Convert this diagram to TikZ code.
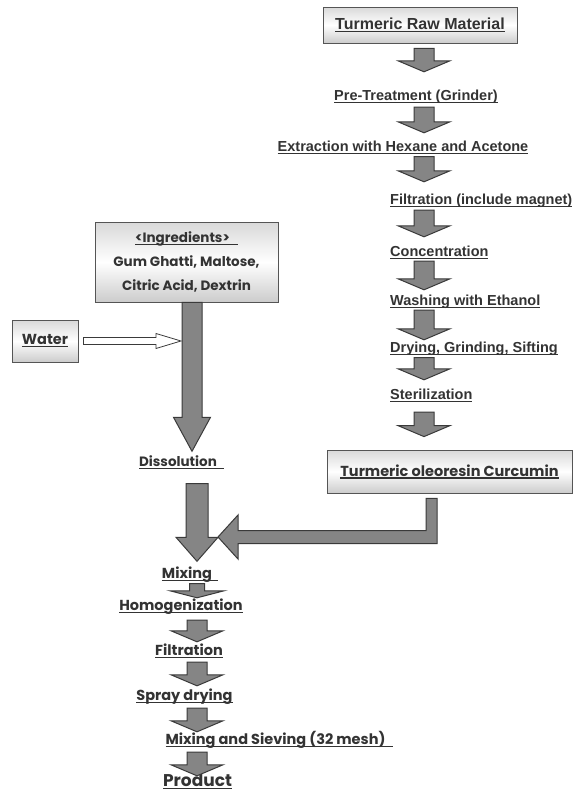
\documentclass[tikz,border=0pt]{standalone}
\usepackage{fontspec}
\setmainfont{Liberation Sans}
\newfontfamily\gothic{Poppins}
\usetikzlibrary{calc,shadows}

\definecolor{ink}{HTML}{333333}
\definecolor{arrfill}{HTML}{858585}
\definecolor{arrline}{HTML}{3A3A3A}
\definecolor{boxline}{HTML}{555555}

\newcommand{\undl}[1]{\leavevmode\setbox0=\hbox{#1}\rlap{\copy0}\rule[-2.6pt]{\wd0}{1.2pt}}

\newcommand{\blkdown}[5]{%
  \draw[blk] let \p1=(#1), \p2=(#2) in
    (\x1-#3pt,\y1) -- (\x1+#3pt,\y1) -- (\x1+#3pt,\y2+#5pt) -- (\x1+#4pt,\y2+#5pt)
    -- (\x1,\y2) -- (\x1-#4pt,\y2+#5pt) -- (\x1-#3pt,\y2+#5pt) -- cycle;}
\newcommand{\stepdown}[5]{\blkdown{$(#1 |- #2.south)+(0,#4)$}{$(#1 |- #3.north)+(0,#5)$}{10}{26}{11}}

\tikzset{
  blk/.style={fill=arrfill, draw=arrline, line width=1pt, line join=miter},
  hollow/.style={fill=white, draw=arrline, line width=0.8pt},
  box/.style={draw=boxline, line width=0.8pt, top color=gray!30, bottom color=gray!40,
    middle color=white, text=ink, inner sep=2pt,
    drop shadow={shadow xshift=1.2pt, shadow yshift=-1.2pt, fill=gray!60}},
  stp/.style={font=\fontsize{14.5}{17}\selectfont\bfseries, text=ink, inner sep=0pt,
    text height=11pt, text depth=4pt},
  gstp/.style={font=\gothic\fontsize{14.5}{17}\selectfont\bfseries, text=ink, inner sep=0pt,
    text height=11pt, text depth=4pt}
}

\begin{document}
\begin{tikzpicture}[x=1pt,y=-1pt]
\path[use as bounding box, fill=white] (0,0) rectangle (573,795);

\node[box, minimum width=194pt, minimum height=36pt, font=\fontsize{16}{19}\selectfont\bfseries] (raw) at (420,25) {\undl{Turmeric Raw Material}};
\node[stp] (pre) at (416,97) {\undl{Pre-Treatment (Grinder)}};
\node[stp] (ext) at (403,148) {\undl{Extraction with Hexane and Acetone}};
\node[stp, anchor=west] (fil) at (390,201) {\undl{Filtration (include magnet)}};
\node[stp, anchor=west] (con) at (390,253) {\undl{Concentration}};
\node[stp, anchor=west] (wash) at (390,302) {\undl{Washing with Ethanol}};
\node[stp, anchor=west] (dry) at (390,349) {\undl{Drying, Grinding, Sifting}};
\node[stp, anchor=west] (ster) at (390,396) {\undl{Sterilization}};
\node[box, minimum width=245pt, minimum height=43pt, font=\gothic\fontsize{14.5}{17}\selectfont\bfseries] (cur) at (449.5,471.5) {\undl{Turmeric oleoresin Curcumin}};

\node[box, minimum width=183pt, minimum height=80pt, align=center, font=\gothic\fontsize{13.5}{24}\selectfont\bfseries] (ing) at (186.5,262) {\undl{<Ingredients>\hspace{8pt}}\\Gum Ghatti, Maltose,\\Citric Acid, Dextrin};
\node[box, minimum width=66pt, minimum height=42pt, font=\gothic\fontsize{14.5}{17}\selectfont\bfseries] (water) at (45,341) {\undl{Water}};

\node[gstp, font=\gothic\fontsize{13.5}{16}\selectfont\bfseries] (dis) at (181.5,463) {\undl{Dissolution\hspace{7pt}}};
\node[gstp] (mix) at (190,575) {\undl{Mixing\hspace{6pt}}};
\node[gstp] (hom) at (181,607) {\undl{Homogenization}};
\node[gstp] (filt) at (189,652) {\undl{Filtration}};
\node[gstp] (spray) at (184.5,697) {\undl{Spray drying}};
\node[gstp] (sieve) at (279.5,741) {\undl{Mixing and Sieving (32 mesh)\hspace{8pt}}};
\node[gstp, font=\gothic\fontsize{17}{20}\selectfont\bfseries, text height=13pt] (prod) at (197.5,782) {\undl{Product}};

\coordinate (rc) at (424,0);
\coordinate (lc) at (197,0);
\coordinate (ic) at (192,0);
\coordinate (lx) at (431.5,0);
\coordinate (ltip) at (218,537);
\coordinate (wtip) at (181,340);

\stepdown{rc}{raw}{pre}{5}{-17.5}
\stepdown{rc}{pre}{ext}{2.5}{-7.5}
\stepdown{rc}{ext}{fil}{1}{-11.5}
\stepdown{rc}{fil}{con}{1.5}{-8.5}
\stepdown{rc}{con}{wash}{0.5}{-4.5}
\stepdown{rc}{wash}{dry}{0.5}{-1.5}
\stepdown{rc}{dry}{ster}{1}{-8.5}
\stepdown{rc}{ster}{cur}{8.5}{-13}

\blkdown{ic |- ing.south}{$(ic |- dis.north)+(0,-4)$}{10}{18.5}{34}
\blkdown{$(lc |- dis.south)+(0,13)$}{$(lc |- mix.north)+(0,-6)$}{11}{21}{24}
\blkdown{$(lc |- mix.south)+(0,1)$}{$(lc |- hom.north)+(0,-1.5)$}{7.5}{27}{7}
\stepdown{lc}{hom}{filt}{5.5}{-2.5}
\stepdown{lc}{filt}{spray}{2.5}{-3.5}
\stepdown{lc}{spray}{sieve}{3.5}{-1.5}
\stepdown{lc}{sieve}{prod}{3.5}{2.5}

\draw[blk] let \p1=($(lx |- cur.south)+(0,5)$), \p2=(ltip) in
  (\x1-5.5pt,\y1) -- (\x1+5.5pt,\y1) -- (\x1+5.5pt,\y2-6.5pt) -- (\x2+20pt,\y2-6.5pt)
  -- (\x2+20pt,\y2-22pt) -- (\p2) -- (\x2+20pt,\y2+22pt) -- (\x2+20pt,\y2+6.5pt)
  -- (\x1-5.5pt,\y2+6.5pt) -- cycle;

\draw[hollow] let \p1=($(water.east)+(5,0)$), \p2=(wtip) in
  (\x1,\y1+3.5pt) -- (\x2-25pt,\y1+3.5pt) -- (\x2-25pt,\y1+7.5pt) -- (\x2,\y1)
  -- (\x2-25pt,\y1-7.5pt) -- (\x2-25pt,\y1-3.5pt) -- (\x1,\y1-3.5pt) -- cycle;
\end{tikzpicture}
\end{document}
